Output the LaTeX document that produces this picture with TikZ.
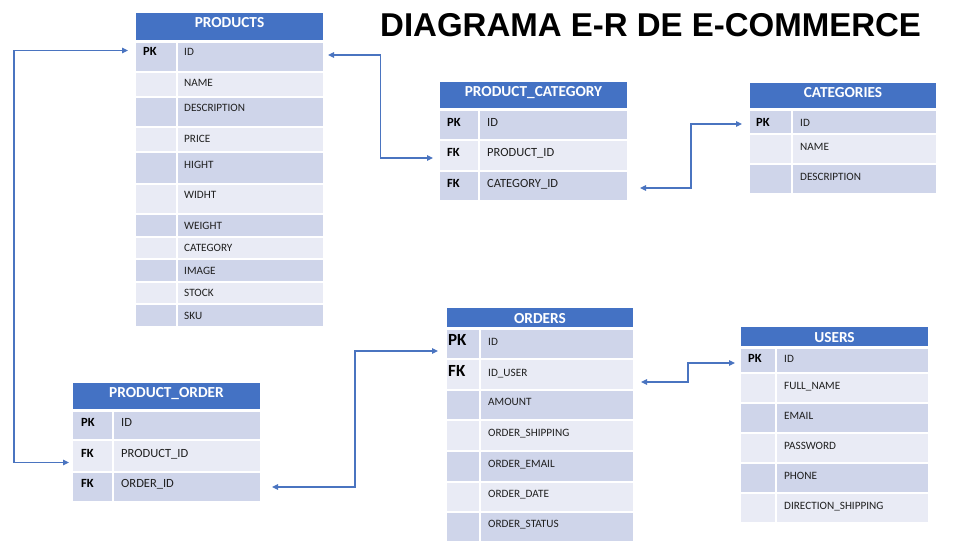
\documentclass[tikz,border=0pt]{standalone}
\usepackage{fontspec}
\newfontfamily\carlito{Carlito}
\newfontfamily\titlefont{Liberation Sans}
\usetikzlibrary{arrows.meta,calc}
\definecolor{hdrblue}{HTML}{4472C4}
\definecolor{rowdark}{HTML}{CFD5EA}
\definecolor{rowlight}{HTML}{E9EBF5}
\definecolor{linkblue}{HTML}{4A74C0}
\tikzset{
 cellbox/.style={draw=white, line width=1.5pt, inner sep=0pt, outer sep=0pt},
 hdrbox/.style={cellbox, fill=hdrblue},
 hdrtxt/.style={inner sep=0pt, text=white, font=\carlito\bfseries\fontsize{15.3}{15.3}\selectfont},
 keytxt/.style={inner sep=0pt, text=black, font=\keyfont},
 fieldtxt/.style={inner sep=0pt, text=black!88, font=\fieldfont},
 link/.style={draw=linkblue, line width=1.2pt, {Triangle[length=6pt,width=5.5pt]}-{Triangle[length=6pt,width=5.5pt]}},
}
\newcommand\erhead[5]{%
 \node[hdrbox, minimum width=\xR pt-\xL pt, minimum height=#3pt-#2pt, anchor=north west] (#1) at (\xL,#2) {};
 \node[hdrtxt, anchor=base] (#1t) at ({(\xL+\xR)/2},#4) {#5};
}
\newcommand\errow[7]{%
 \node[cellbox, fill=#5, minimum width=\xD pt-\xL pt, minimum height=#3pt-#2pt, anchor=north west] (#1k) at (\xL,#2) {};
 \node[cellbox, fill=#5, minimum width=\xR pt-\xD pt, minimum height=#3pt-#2pt, anchor=north west] (#1) at (\xD,#2) {};
 \if\relax\detokenize{#6}\relax\else\node[keytxt, anchor=base west] (#1kt) at (\xK,#4) {#6};\fi
 \node[fieldtxt, anchor=base west] (#1t) at (\xF,#4) {#7};
}
\begin{document}
\begin{tikzpicture}[x=1pt,y=-1pt]
\fill[white] (0,0) rectangle (978,550);
\useasboundingbox (0,0) rectangle (978,550);

\node[anchor=base west, inner sep=0pt, font=\titlefont\bfseries\fontsize{33}{33}\selectfont] (title) at (380,36) {DIAGRAMA E-R DE E-COMMERCE};

% PRODUCTS
\def\xL{135}\def\xD{177}\def\xR{324}\def\xK{143}\def\xF{184}
\def\keyfont{\carlito\bfseries\fontsize{12.5}{12.5}\selectfont}
\def\fieldfont{\carlito\fontsize{11.2}{11.2}\selectfont}
\erhead{prod}{12}{41}{27}{PRODUCTS}
\errow{p1}{42}{72}{55.5}{rowdark}{PK}{ID}
\errow{p2}{72}{97}{86.5}{rowlight}{}{NAME}
\errow{p3}{97}{127}{111.5}{rowdark}{}{DESCRIPTION}
\errow{p4}{127}{152}{142.5}{rowlight}{}{PRICE}
\errow{p5}{152}{184}{168.5}{rowdark}{}{HIGHT}
\errow{p6}{184}{214}{198.5}{rowlight}{}{WIDHT}
\errow{p7}{214}{237}{229.5}{rowdark}{}{WEIGHT}
\errow{p8}{237}{259}{251.5}{rowlight}{}{CATEGORY}
\errow{p9}{259}{282}{274.5}{rowdark}{}{IMAGE}
\errow{p10}{282}{304}{296.5}{rowlight}{}{STOCK}
\errow{p11}{304}{327}{319.5}{rowdark}{}{SKU}

% PRODUCT_CATEGORY
\def\xL{439}\def\xD{479}\def\xR{628}\def\xK{447}\def\xF{487}
\def\keyfont{\carlito\bfseries\fontsize{12.5}{12.5}\selectfont}
\def\fieldfont{\carlito\fontsize{12.5}{12.5}\selectfont}
\erhead{pcat}{81}{109}{96}{PRODUCT\_CATEGORY}
\errow{pc1}{110}{140}{126.5}{rowdark}{PK}{ID}
\errow{pc2}{140}{171}{156.5}{rowlight}{FK}{PRODUCT\_ID}
\errow{pc3}{171}{201}{187.5}{rowdark}{FK}{CATEGORY\_ID}

% CATEGORIES
\def\xL{749}\def\xD{792}\def\xR{937}\def\xK{756}\def\xF{800}
\def\keyfont{\carlito\bfseries\fontsize{12.5}{12.5}\selectfont}
\def\fieldfont{\carlito\fontsize{11.2}{11.2}\selectfont}
\erhead{cats}{82}{109}{97}{CATEGORIES}
\errow{c1}{110}{134}{126}{rowdark}{PK}{ID}
\errow{c2}{134}{164}{150}{rowlight}{}{NAME}
\errow{c3}{164}{194}{180}{rowdark}{}{DESCRIPTION}

% ORDERS
\def\xL{446}\def\xD{480}\def\xR{634}\def\xK{448}\def\xF{488}
\def\keyfont{\carlito\bfseries\fontsize{17}{17}\selectfont}
\def\fieldfont{\carlito\fontsize{11.2}{11.2}\selectfont}
\erhead{ord}{307}{328}{323}{ORDERS}
\errow{o1}{329}{359}{345}{rowdark}{PK}{ID}
\errow{o2}{359}{390}{376}{rowlight}{FK}{ID\_USER}
\errow{o3}{390}{420}{405}{rowdark}{}{AMOUNT}
\errow{o4}{420}{451}{436}{rowlight}{}{ORDER\_SHIPPING}
\errow{o5}{451}{482}{467}{rowdark}{}{ORDER\_EMAIL}
\errow{o6}{482}{512}{497}{rowlight}{}{ORDER\_DATE}
\errow{o7}{512}{542}{527}{rowdark}{}{ORDER\_STATUS}

% USERS
\def\xL{740}\def\xD{776}\def\xR{929}\def\xK{748}\def\xF{784}
\def\keyfont{\carlito\bfseries\fontsize{12.5}{12.5}\selectfont}
\def\fieldfont{\carlito\fontsize{11.2}{11.2}\selectfont}
\erhead{usr}{326}{347}{342}{USERS}
\errow{u1}{348}{373}{362}{rowdark}{PK}{ID}
\errow{u2}{373}{403}{389}{rowlight}{}{FULL\_NAME}
\errow{u3}{403}{433}{419}{rowdark}{}{EMAIL}
\errow{u4}{433}{463}{449}{rowlight}{}{PASSWORD}
\errow{u5}{463}{493}{479}{rowdark}{}{PHONE}
\errow{u6}{493}{523}{509}{rowlight}{}{DIRECTION\_SHIPPING}

% PRODUCT_ORDER
\def\xL{72}\def\xD{113}\def\xR{261}\def\xK{81}\def\xF{121}
\def\keyfont{\carlito\bfseries\fontsize{12.5}{12.5}\selectfont}
\def\fieldfont{\carlito\fontsize{12.5}{12.5}\selectfont}
\erhead{pord}{382}{410}{397}{PRODUCT\_ORDER}
\errow{po1}{411}{440}{426.5}{rowdark}{PK}{ID}
\errow{po2}{440}{472}{457.5}{rowlight}{FK}{PRODUCT\_ID}
\errow{po3}{472}{502}{487.5}{rowdark}{FK}{ORDER\_ID}

% connectors
\coordinate (c1s) at ([xshift=4pt,yshift=2pt]p1.east);
\coordinate (c1e) at ([xshift=-6pt,yshift=-2.5pt]pc2k.west);
\draw[link] (c1s) -| ($(c1s)!.5!(c1e)$) |- (c1e);

\coordinate (c2s) at ([xshift=12pt,yshift=-2pt]pc3.east);
\coordinate (c2e) at ([xshift=-7pt,yshift=-2pt]c1k.west);
\draw[link] (c2s) -| ($(c2s)!.5!(c2e)$) |- (c2e);

\coordinate (loopx) at (14,0);
\coordinate (c3s) at ([xshift=-7pt,yshift=6.5pt]p1k.west);
\coordinate (c3e) at ([xshift=-3pt,yshift=-6.5pt]po2k.west);
\draw[link] (c3s) -- (c3s -| loopx) -- (c3e -| loopx) -- (c3e);

\coordinate (c4s) at ([xshift=11pt]po3.east);
\coordinate (c4e) at ([xshift=-8pt,yshift=-7pt]o1k.west);
\draw[link] (c4s) -| ($(c4s)!.5!(c4e)$) |- (c4e);

\coordinate (c5s) at ([xshift=7pt,yshift=-7.5pt]o2.east);
\coordinate (c5e) at ([xshift=-5pt,yshift=-2.5pt]u1k.west);
\draw[link] (c5s) -| ($(c5s)!.5!(c5e)$) |- (c5e);
\end{tikzpicture}
\end{document}
